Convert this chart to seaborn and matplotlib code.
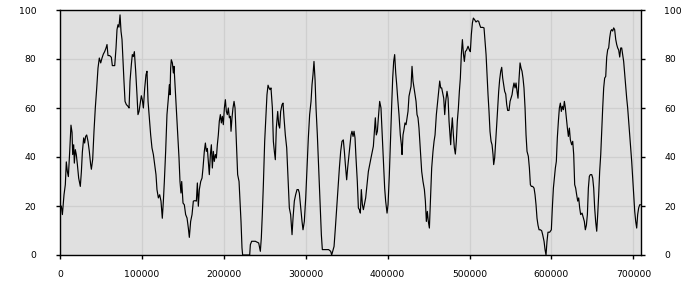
import matplotlib
matplotlib.use("Agg")
import matplotlib.pyplot as plt
import seaborn as sns
import pandas as pd

position = [
    1600, 2900, 4900, 6500, 7700, 9000, 10200, 11800, 13400, 14700, 15500, 16700, 17500, 18700,
    19900, 21200, 22800, 24800, 26100, 27300, 28900, 30100, 31300, 32600, 34200, 35800, 37400,
    38300, 39900, 41500, 43100, 44800, 46400, 48000, 49700, 51300, 52900, 54500, 56200, 57400,
    58600, 60600, 62700, 63900, 66800, 68400, 69600, 70800, 72000, 73300, 74500, 75700, 76900,
    78100, 79400, 81000, 83000, 84300, 85500, 87100, 88300, 89500, 90800, 92400, 94000, 95200,
    96500, 97700, 99300, 100500, 101800, 103400, 105000, 106200, 107500, 109100, 110700, 112300,
    114000, 115600,
    117200, 118400, 120100, 121700, 123300, 124900, 126200, 127400, 129000, 130600, 132300,
    133500, 134300, 135100, 135900, 137200, 138400, 139200, 140400, 142000, 143700, 145300,
    146500, 147700, 148600, 150200, 151800, 153400, 155100, 156700, 157900, 159500, 161200,
    162800, 164800, 166500, 167700, 168900, 170100, 171800, 173400, 174600, 176200, 177500,
    178700, 179900, 181100, 182300, 183600, 184800, 186000, 187200, 188400, 189700, 190900,
    192100, 193300, 194500, 195800, 197000, 198200, 199400, 200700, 201900, 203100, 204300,
    205500, 206800, 208000, 208800, 210000, 211200, 212500, 213700, 215300, 216900, 218600,
    220200, 221000, 222200, 223000, 231600, 232400, 234000,
    238500, 242600, 244600, 245800, 247000, 248300, 249900, 251500, 252700, 254000, 255200,
    256400, 257600, 259300, 260500, 261700, 262900, 264100, 265800, 267000, 268200, 269400,
    271100, 272300, 273500, 275100, 276800, 278400, 280000, 281600, 283300, 284500, 286100,
    287700, 289400, 291000, 292200, 293900, 295500, 296700, 298300, 300000, 301600, 303200,
    304800, 306500, 307700, 308900, 310100, 311400, 312600, 314200, 315800, 317500, 319100,
    320300, 328000, 330500, 331700, 332900, 334600, 336200, 337800, 339400, 341100, 342700,
    344300, 345900, 347200, 348400, 350000, 351200,
    354100, 355300, 356500, 357800, 359000, 360200, 361400, 363000, 364300, 365500, 366700,
    367900, 369200, 370400, 371600, 373200, 374800, 376500, 378100, 379700, 381400, 382600,
    383800, 385000, 386200, 387500, 388700, 390300, 391900, 393200, 394800, 396400, 397600,
    399300, 400500, 402100, 403700, 405000, 406200, 407400, 408600, 409900, 411100, 412300,
    413900, 415500, 416800, 417600, 418800, 420000, 421200, 422500, 423700, 424900, 426100,
    427400, 428600, 429800, 431000, 432200, 433500, 434700, 435900, 437100, 438300, 440000,
    441600, 443200, 444900, 446100, 447300, 448500, 449700, 451000, 452200, 453800, 455400,
    456700, 457900, 459500, 461100, 462400, 463600, 464800, 466000, 467200, 468500, 469700,
    470900,
    472500, 473800, 475000, 476200, 477000, 477800, 479000, 480300, 481500, 482700, 483900,
    485100, 486400, 487600, 488800, 490000, 491300, 492500, 493700, 494900, 496500, 498200,
    499800, 501000, 502200, 503500, 504700, 506300, 507900, 509600, 511200, 512400, 513600,
    516100, 517700, 518900, 520200, 521400, 522600, 523800, 525000, 526300, 527500, 528700,
    529500, 530700, 532000, 533200, 534400, 535600, 536800, 538100, 539300, 540500, 541700,
    542900, 544200, 545400, 546600, 548200, 549500, 550700, 551900, 553100, 554300, 555600,
    556800, 558000, 559200, 560400, 561700, 562900, 564100, 565300, 566500, 567800, 569000,
    570200, 571800, 573100, 574300, 575500, 577100, 578800, 580000, 581200, 582400, 583600,
    584900, 586500, 588100, 589300, 591000,
    592200, 593400, 594600, 595800, 597900, 599900, 601100, 602400, 603600, 604800, 606000,
    607200, 608500, 609700, 610900, 612100, 613300, 614600, 615800, 617000, 618200, 619500,
    620700, 621900, 623100, 624700, 626000, 627200, 628400, 629600, 630800, 632100, 633300,
    634500, 635700, 637400, 638600, 640200, 641400, 642700, 643900, 645100, 646300, 647500,
    649200, 650400, 651600, 652800, 654000, 655300, 656500, 657700, 658900, 660200, 661400,
    662600, 663800, 665000, 666300, 667500, 668700, 669900, 671100, 672400, 673600, 674800,
    676000, 677200, 678500, 679700, 680900, 682100, 683400, 684600, 685800, 687000, 688200,
    689500, 690700, 691900, 693100, 694300, 695600, 696800, 698000, 699200, 700400, 701700,
    702900, 704100, 705300, 706500, 707800, 709000,
]

value = [
    20, 16.5, 24.6, 28.7, 38, 34, 32, 42, 53, 50, 41, 45, 37.5, 43,
    41, 37, 31.4, 28, 34, 42, 47.8, 45.7, 48.4, 49, 46.4, 42.3, 37,
    35, 39, 50.5, 60, 68, 76.3, 80.4, 78.4, 80.4, 82, 83, 84.5, 85.9,
    81.4, 81.4, 80.7, 77.3, 77.3, 84.5, 92, 94, 93, 98, 91.3, 88, 79,
    71, 62.7, 61.4, 60.7, 60, 71, 77.7, 81.8, 81, 83, 75, 65.4, 57.3,
    58.6, 61.4, 65, 63.4, 60, 68, 73.6, 75, 62.7, 56, 49, 43.7,
    41, 37,
    32.8, 26.7, 23.3, 24.6, 22, 15, 22, 30, 42.3, 57.3, 64,
    69.5, 65.4, 76.3, 79.7, 78.4, 74.3, 77, 69.5, 60, 49, 39.6,
    30, 25.3, 30, 21.2, 20.5, 16.5, 15.1, 11, 7.2, 13.7, 16.5,
    22, 22.2, 22, 29.4, 19.9, 26.7, 30, 31.4, 35.5, 42.3, 45.7,
    42.3, 43.5, 38.2, 32.8, 41, 45, 35.5, 42.3, 38.2, 41, 39.6,
    45, 49, 54.6, 57.3, 53.9, 56.6, 53.2, 60, 63.4, 58.6, 57.3,
    60, 56, 56.6, 50.5, 56, 60, 62.7, 60, 46.4, 32.8, 30,
    19.2, 13.7, 2.9, 0, 0, 4.2, 5.6,
    5.6, 4.9, 1.5, 7, 16.5, 28.7, 46.4, 57.3, 65.4, 69.3, 68.2,
    67.5, 68.2, 60, 46.4, 42.3, 38.9, 51.8, 58.6, 53.2, 51.8, 58.6,
    61.4, 62, 56, 49, 43.7, 31.4, 19.2, 16.5, 8.3, 15, 22,
    24.6, 26.7, 26.7, 25.3, 19.2, 13.7, 10.3, 13.7, 23.3, 35.5, 47.8,
    57.3, 62.7, 69.5, 73.6, 79, 71.6, 60, 49, 35.5, 20.5, 8.3,
    2.2, 2.2, 1.5, 0, 1.5, 3.5, 11, 19.2, 27.3, 35.5, 42.3,
    46.4, 47, 42.3, 37, 30.7, 35.5,
    45, 49, 50.5, 48.4, 50.5, 47.8, 39.6, 30, 19.2, 18.5, 17.1,
    26.7, 20.5, 18.5, 20.5, 23.3, 28.7, 34.1, 36.9, 39.6, 42.3, 44.4,
    50.5, 56, 49, 50.5, 56, 62.7, 60, 50.5, 38.2, 27.3, 22,
    17.1, 20.5, 32.8, 49, 61.4, 72.2, 79, 81.8, 74.3, 69.5, 64,
    57.3, 49, 45, 41, 49, 51.2, 53.9, 53.2, 56, 58.6, 64.8,
    66.8, 68.8, 77, 71, 68.2, 65.4, 62.7, 57.3, 56, 51.8, 42.3,
    34.1, 30, 26.7, 22, 13.7, 17.8, 13.7, 11, 22, 35.5, 42.3,
    46.4, 49, 57.3, 62.7, 66.8, 71, 68.2, 68.2, 66.1, 64, 57.3,
    62.7,
    66.8, 64, 54.6, 49, 45, 50.5, 56, 49, 43.7, 41.2, 46.4,
    54.6, 60, 66.8, 72.2, 81.8, 87.9, 82.3, 79, 83, 83.7, 85.2,
    83.7, 83, 89.9, 94.7, 96.7, 96, 95.1, 95.6, 95.4, 94, 92.9,
    92.9, 92.7, 87.2, 81.8, 73.6, 65.4, 58.6, 50.5, 46.4, 45, 41,
    36.9, 39.6, 46.4, 53.2, 60, 66.8, 71.6, 75, 76.6, 72.2, 69.5,
    66.8, 65.7, 61.4, 59, 59, 62.7, 64, 65.4, 68.2, 70.2, 68.2,
    70.2, 66.8, 64, 71.6, 78.4, 76.3, 75, 72.2, 68.2, 60, 49,
    42.3, 40.3, 35.5, 28.7, 28, 28, 27.3, 24.6, 20.5, 15, 12.2,
    10.3, 10.3, 9.9, 8.3, 5.6,
    2.2, 0, 5.6, 9.3, 9.3, 10.3, 19.2, 27.3, 31.4, 35.5, 38.2,
    47.8, 54.6, 60, 62, 58.6, 60.7, 59.3, 62.7, 60, 56, 51.8,
    48.4, 51.8, 47, 45, 46.4, 41, 28.7, 27.3, 24.6, 22, 23.3,
    19.2, 16.5, 17.1, 15.6, 13.7, 10.3, 12.2, 16.5, 27.3, 32.1, 32.8,
    32.8, 31.4, 27.3, 19.2, 13.7, 9.7, 16.5, 24.6, 34.1, 41, 50.5,
    60, 68.2, 72.2, 72.9, 80.8, 83.8, 84.5, 88.6, 91.4, 92, 91.4,
    92.7, 92, 88, 85.9, 84.5, 83.7, 80.8, 84.5, 84.5, 81.6, 79,
    73.6, 68.2, 64, 60, 54.6, 49, 43.7, 38.2, 31.4, 24.6, 17.8,
    13.7, 11, 16.5, 19.2, 20.5, 20.5,
]

x_ticks = [0, 100000, 200000, 300000, 400000, 500000, 600000, 700000]
y_ticks = [0, 20, 40, 60, 80, 100]

df = pd.DataFrame({"position": position, "value": value})

sns.set_theme(style="white")
plt.rcParams["font.family"] = ["DejaVu Sans"]

fig = plt.figure(figsize=(7, 3), dpi=100)
ax = fig.add_axes([60 / 700, 45 / 300, 580.7 / 700, 245 / 300])
ax.set_facecolor("#e0e0e0")

sns.lineplot(data=df, x="position", y="value", ax=ax, color="black",
             linewidth=0.85, estimator=None, sort=False)

ax.set_xlim(0, 709000)
ax.set_ylim(0, 100)
ax.set_xticks(x_ticks)
ax.set_xticklabels([str(t) for t in x_ticks])
ax.set_yticks(y_ticks)
ax.set_yticklabels([str(t) for t in y_ticks])
ax.set_xlabel("")
ax.set_ylabel("")
ax.grid(True, color="#cfcfcf", linewidth=0.9)
ax.set_axisbelow(True)

for s in ax.spines.values():
    s.set_color("black")
    s.set_linewidth(1)
    s.set_visible(True)

ax.tick_params(axis="y", which="both", left=True, right=True, labelleft=True,
               labelright=True, direction="out", length=3, width=1,
               color="black", labelsize=6.7, labelcolor="black", pad=14)
ax.tick_params(axis="x", bottom=True, direction="out", length=3, width=1,
               color="black", labelsize=6.7, labelcolor="black", pad=8)

fig.savefig("out.png", dpi=100, facecolor="white")
